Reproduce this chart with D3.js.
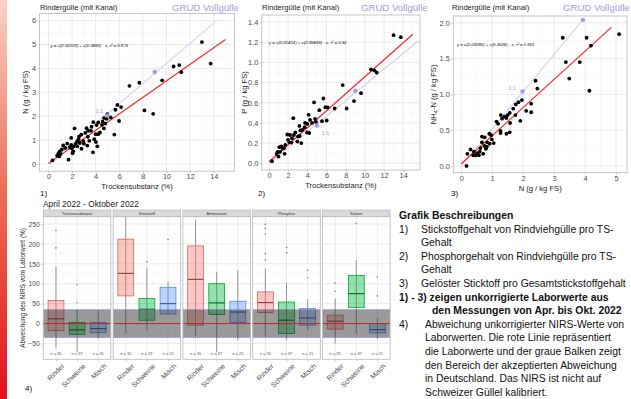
<!DOCTYPE html>
<html>
<head>
<meta charset="utf-8">
<script src="https://cdn.jsdelivr.net/npm/d3@7"></script>
<style>
  body { margin: 0; background: #fff; }
  svg { display: block; font-family: "Liberation Sans", Arial, sans-serif; }
</style>
</head>
<body>
<svg id="chart" width="631" height="399"></svg>
<script>
// ---- chart 1: N vs Trockensubstanz
const ts1 = [13.0,13.74,10.6,11.08,11.25,9.63,7.7,6.86,8.13,8.87,5.84,6.15,5.67,5.98,5.58,4.99,4.93,5.27,4.7,4.59,4.82,4.22,3.8,4.7,4.53,4.08,4.0,4.22,3.65,3.6,3.37,3.23,3.12,3.34,3.46,3.29,2.95,3.0,2.78,2.6,2.55,2.44,2.3,2.21,2.15,2.1,2.04,2.8,1.93,1.93,1.81,1.7,1.59,1.42,1.25,1.13,0.96,0.85,1.02,0.74,0.91,0.34,4.02,4.14,3.77,3.88,4.36,1.98,2.44,2.66];
const n1 = [5.1,4.2,4.08,4.14,3.84,3.5,3.4,3.27,2.24,2.1,2.47,2.38,2.27,1.8,1.23,2.09,1.89,1.95,1.92,1.77,1.69,1.74,1.75,1.49,1.64,1.63,1.25,1.25,1.56,1.39,1.39,1.5,1.3,1.14,0.97,0.77,0.96,0.85,1.23,1.16,1.04,0.95,0.84,1.49,0.74,0.53,0.45,0.64,1.09,0.8,0.7,0.18,0.85,0.67,0.78,0.61,0.53,0.45,0.42,0.35,0.32,0.15,0.92,0.74,0.49,1.04,1.32,0.65,0.74,0.88];
const grud1X = [5, 9];
const grud1Y = [2.03, 3.85];
const grudLine1 = [[0, 0], [14.25, 6.0]];
const fit1 = [0.02229, 0.3456];

// ---- chart 2: P vs Trockensubstanz
const ts2 = [13.0,13.74,10.64,10.99,11.23,7.69,9.6,8.87,8.1,6.85,5.67,5.88,6.12,4.7,5.25,6.02,5.53,4.9,4.8,4.14,4.28,4.49,4.0,4.2,3.97,3.72,3.48,3.27,3.2,3.37,2.96,3.03,2.54,2.6,2.4,2.33,2.12,1.91,2.19,1.98,1.7,1.57,1.63,1.29,1.08,1.43,1.15,0.9,0.8,1.0,0.31,2.75,3.17,3.76];
const p2 = [1.27,1.25,0.93,0.92,0.9,0.775,0.695,0.616,0.543,0.543,0.642,0.556,0.553,0.603,0.526,0.424,0.417,0.41,0.44,0.48,0.43,0.40,0.39,0.30,0.305,0.357,0.33,0.325,0.27,0.2,0.215,0.265,0.447,0.28,0.248,0.205,0.209,0.285,0.28,0.232,0.182,0.152,0.093,0.166,0.159,0.146,0.113,0.113,0.093,0.066,0.02,0.305,0.37,0.40];
const grud2X = [5, 9];
const grud2Y = [0.375, 0.72];
const grudLine2 = [[0, 0], [15.6, 1.215]];
const fit2 = [0.01412, 0.08438];

// ---- chart 3: NH4-N vs N
const n3 = [5.1,4.05,4.19,3.28,3.38,3.83,3.49,4.14,2.4,2.46,1.96,1.85,2.26,2.26,2.1,1.91,1.76,1.68,1.75,1.57,1.5,1.4,1.32,1.28,1.46,1.58,1.57,1.46,1.27,1.27,1.19,1.14,0.99,0.91,1.05,0.92,0.83,0.97,0.76,0.67,0.75,0.8,0.67,0.62,0.6,0.52,0.46,0.39,0.41,0.3,0.2,0.17,0.57,0.71,0.84];
const nh3 = [1.84,1.79,1.68,1.79,1.45,1.45,1.22,1.05,1.19,1.08,0.92,0.89,0.87,0.75,0.77,0.63,0.86,0.8,0.71,0.74,0.71,0.69,0.66,0.71,0.67,0.6,0.47,0.45,0.49,0.46,0.59,0.62,0.37,0.45,0.32,0.31,0.27,0.43,0.4,0.41,0.28,0.24,0.33,0.25,0.2,0.18,0.15,0.15,0.2,0.23,0.17,0.0,0.15,0.17,0.33];
const grud3X = [1.98, 3.93];
const grud3Y = [1.04, 2.04];
const grudLine3 = [[0, 0], [3.93, 2.04]];
const fit3 = [0.03085, 0.3926];

// ---- chart 4: boxplots, NIRS deviation (%)
const facets = ['Trockensubstanz', 'Stickstoff', 'Ammonium', 'Phosphor', 'Kalium'];
const animals = ['Rinder', 'Schweine', 'Misch'];
const nLabels = ['n = 35', 'n = 37', 'n = 21'];
const whiskerLow = [[-62,-71,-38],[-25,-17,24],[-30,-71,-42],[-33.5,-42,-17],[-50,-25,-39]];
const q1 = [[-18,-27,-23],[69.5,8.4,24],[-4,22.6,2.5],[27.6,-25,-4],[-14,40,-23.5]];
const median = [[12,-16,-12.5],[126,36,50],[111,52,29],[52.8,8.4,14],[6,75,-15]];
const q3 = [[58,3,3],[212,63,91],[195,100,56],[79.6,54,37.7],[21,121,0]];
const whiskerHigh = [[143,35,33],[268,140,105],[260,130,134],[138,103,61],[63,159,12.5]];
const outliers = [[[234,190],[98,53],[]],[[],[155],[211]],[[],[],[]],[[249,239,225,175,160],[191,178],[134,115]],[[102,81],[251],[117,69.5]]];
const yTicks4 = [-50, 0, 50, 100, 150, 200, 250];
const bandLimit = 35;

const descLines = [
  {t: 'Grafik Beschreibungen', x: 399, b: true},
  {t: '1)', x: 399, t2: 'Stickstoffgehalt von Rindviehgülle pro TS-'},
  {t: 'Gehalt', x: 421},
  {t: '2)', x: 399, t2: 'Phosphorgehalt von  Rindviehgülle pro TS-'},
  {t: 'Gehalt', x: 421},
  {t: '3)', x: 399, t2: 'Gelöster Sticktoff pro Gesamtstickstoffgehalt'},
  {t: '1) - 3) zeigen unkorrigierte Laborwerte aus', x: 399, b: true},
  {t: 'den Messungen von Apr. bis Okt. 2022', x: 432, b: true},
  {t: '4)', x: 399, t2: 'Abweichung unkorrigierter NIRS-Werte von', x2: 425},
  {t: 'Laborwerten. Die rote Linie repräsentiert', x: 425},
  {t: 'die Laborwerte und der graue Balken zeigt', x: 425},
  {t: 'den Bereich der akzeptierten Abweichung', x: 425},
  {t: 'in Deutschland. Das NIRS ist nicht auf', x: 425},
  {t: 'Schweizer Güllel kalibriert.', x: 425}
];

const svg = d3.select('#chart');
const GRUD = '#9d9de8';

// red gradient strip on the left
const grad = svg.append('defs').append('linearGradient')
  .attr('id', 'strip').attr('x1', 0).attr('x2', 0).attr('y1', 0).attr('y2', 1);
grad.append('stop').attr('offset', '0%').attr('stop-color', '#f9d2c4');
grad.append('stop').attr('offset', '50%').attr('stop-color', '#ec6a52');
grad.append('stop').attr('offset', '100%').attr('stop-color', '#e2131d');
svg.append('rect').attr('x', 0).attr('y', 0).attr('width', 7).attr('height', 399).attr('fill', 'url(#strip)');

function minors(major, dom) {
  const step = major[1] - major[0];
  const out = [];
  for (let v = major[0] - step / 2; v <= dom[1]; v += step) {
    if (v >= dom[0]) out.push(v);
  }
  return out;
}

function styleAxis(a, size) {
  a.select('.domain').remove();
  a.selectAll('.tick line').attr('stroke', '#b3b3b3').attr('stroke-width', 0.7);
  a.selectAll('.tick text').attr('fill', '#4d4d4d').attr('font-size', size);
}

function scatter(c) {
  const x = d3.scaleLinear().domain(c.xDom).range([c.left, c.right]);
  const y = d3.scaleLinear().domain(c.yDom).range([c.bottom, c.top]);
  const g = svg.append('g');

  g.append('rect').attr('x', c.left).attr('y', c.top)
    .attr('width', c.right - c.left).attr('height', c.bottom - c.top).attr('fill', '#fff');

  // grid
  const grid = g.append('g').attr('fill', 'none');
  minors(c.xTicks, c.xDom).forEach(v => grid.append('line')
    .attr('x1', x(v)).attr('x2', x(v)).attr('y1', c.top).attr('y2', c.bottom)
    .attr('stroke', '#f2f2f2').attr('stroke-width', 0.5));
  minors(c.yTicks, c.yDom).forEach(v => grid.append('line')
    .attr('x1', c.left).attr('x2', c.right).attr('y1', y(v)).attr('y2', y(v))
    .attr('stroke', '#f2f2f2').attr('stroke-width', 0.5));
  c.xTicks.forEach(v => grid.append('line')
    .attr('x1', x(v)).attr('x2', x(v)).attr('y1', c.top).attr('y2', c.bottom)
    .attr('stroke', '#e3e3e3').attr('stroke-width', 0.7));
  c.yTicks.forEach(v => grid.append('line')
    .attr('x1', c.left).attr('x2', c.right).attr('y1', y(v)).attr('y2', y(v))
    .attr('stroke', '#e3e3e3').attr('stroke-width', 0.7));

  // GRUD 1:1 line
  g.append('line')
    .attr('x1', x(c.grudLine[0][0])).attr('y1', y(c.grudLine[0][1]))
    .attr('x2', x(c.grudLine[1][0])).attr('y2', y(c.grudLine[1][1]))
    .attr('stroke', '#d2d2f4').attr('stroke-width', 1.1);

  // fitted line
  const fx = [0, c.fitEnd];
  g.append('line')
    .attr('x1', x(fx[0])).attr('y1', y(c.fit[0] + c.fit[1] * fx[0]))
    .attr('x2', x(fx[1])).attr('y2', y(c.fit[0] + c.fit[1] * fx[1]))
    .attr('stroke', '#f52a2a').attr('stroke-width', 1.2);

  g.selectAll('circle.pt').data(c.xs).enter().append('circle')
    .attr('class', 'pt')
    .attr('cx', (d) => x(d)).attr('cy', (d, i) => y(c.ys[i]))
    .attr('r', 1.9).attr('fill', '#000');

  g.selectAll('circle.grud').data(c.gx).enter().append('circle')
    .attr('class', 'grud')
    .attr('cx', (d) => x(d)).attr('cy', (d, i) => y(c.gy[i]))
    .attr('r', 2.2).attr('fill', GRUD);

  g.append('text').attr('x', x(c.ratioPos[0])).attr('y', y(c.ratioPos[1]))
    .attr('font-size', 5.5).attr('fill', GRUD).attr('text-anchor', 'middle').text('1:1');

  g.append('text').attr('x', c.eqPos[0]).attr('y', c.eqPos[1])
    .attr('font-size', 4.3).attr('font-style', 'italic').attr('fill', '#111')
    .text(c.eq);

  g.append('rect').attr('x', c.left).attr('y', c.top)
    .attr('width', c.right - c.left).attr('height', c.bottom - c.top)
    .attr('fill', 'none').attr('stroke', '#b8b8b8').attr('stroke-width', 0.8);

  const ax = g.append('g').attr('transform', `translate(0,${c.bottom})`)
    .call(d3.axisBottom(x).tickValues(c.xTicks).tickSize(2).tickPadding(1).tickFormat(d3.format('d')));
  styleAxis(ax, 7.4);
  const ay = g.append('g').attr('transform', `translate(${c.left},0)`)
    .call(d3.axisLeft(y).tickValues(c.yTicks).tickSize(2).tickPadding(1.5).tickFormat(c.yFmt));
  styleAxis(ay, 7.4);

  g.append('text').attr('x', (c.left + c.right) / 2).attr('y', c.bottom + 18)
    .attr('text-anchor', 'middle').attr('font-size', 7.6).attr('fill', '#222').text(c.xTitle);
  const yt = g.append('text')
    .attr('transform', `translate(${c.yTitleX},${(c.top + c.bottom) / 2}) rotate(-90)`)
    .attr('text-anchor', 'middle').attr('font-size', 7.6).attr('fill', '#222');
  c.yTitle(yt);

  g.append('text').attr('x', c.titleX).attr('y', 10).attr('font-size', 7.6).attr('fill', '#222')
    .text('Rindergülle (mit Kanal)');
  g.append('text').attr('x', c.grudX).attr('y', 11).attr('font-size', 9.6).attr('fill', GRUD)
    .text('GRUD Vollgülle');
  g.append('text').attr('x', c.numX).attr('y', 196).attr('font-size', 8).attr('fill', '#111')
    .text(c.num);
}

scatter({
  left: 39.6, right: 234.4, top: 13.4, bottom: 171.2,
  xDom: [-0.75, 15.75], yDom: [-0.3, 6.3],
  xTicks: d3.range(0, 15, 2), yTicks: d3.range(0, 7, 1), yFmt: d3.format('d'),
  xs: ts1, ys: n1, gx: grud1X, gy: grud1Y, grudLine: grudLine1,
  fit: fit1, fitEnd: 15, ratioPos: [4.3, 2.12],
  eq: 'y = c(0.02229) + c(0.3456) · x,  r² = 0.879', eqPos: [50.5, 46.5],
  xTitle: 'Trockensubstanz (%)', yTitleX: 28,
  yTitle: t => t.text('N (g / kg FS)'),
  titleX: 40, grudX: 172, numX: 40, num: '1)'
});

scatter({
  left: 261.8, right: 420, top: 15, bottom: 170,
  xDom: [-0.75, 15.75], yDom: [-0.067, 1.47],
  xTicks: d3.range(0, 15, 2), yTicks: d3.range(0, 1.41, 0.2), yFmt: d3.format('.1f'),
  xs: ts2, ys: p2, gx: grud2X, gy: grud2Y, grudLine: grudLine2,
  fit: fit2, fitEnd: 15, ratioPos: [5.9, 0.28],
  eq: 'y = c(0.01412) + c(0.08438) · x,  r² = 0.92', eqPos: [269, 44],
  xTitle: 'Trockensubstanz (%)', yTitleX: 247,
  yTitle: t => t.text('P (g / kg FS)'),
  titleX: 262, grudX: 361, numX: 258, num: '2)'
});

scatter({
  left: 453.3, right: 627, top: 16, bottom: 172.7,
  xDom: [-0.255, 5.355], yDom: [-0.094, 2.094],
  xTicks: d3.range(0, 6, 1), yTicks: d3.range(0, 2.01, 0.5), yFmt: d3.format('.1f'),
  xs: n3, ys: nh3, gx: grud3X, gy: grud3Y, grudLine: grudLine3,
  fit: fit3, fitEnd: 4.85, ratioPos: [1.65, 1.06],
  eq: 'y = c(0.03085) + c(0.3926) · x,  r² = 0.901', eqPos: [457, 46],
  xTitle: 'N (g / kg FS)', yTitleX: 436,
  yTitle: t => {
    t.append('tspan').text('NH');
    t.append('tspan').attr('font-size', 5.5).attr('dy', 2).text('4');
    t.append('tspan').attr('dy', -2).text('-N  (g / kg FS)');
  },
  titleX: 452, grudX: 563, numX: 451, num: '3)'
});

// ---- chart 4
const colors = {Rinder: '#F8766D', Schweine: '#00BA38', Misch: '#619CFF'};
const facetLeft = 43.3, facetW = 67.6, facetGap = 2.2;
const pTop = 216.7, pBottom = 359.3;
const y4 = d3.scaleLinear().domain([-89.7, 268.3]).range([pBottom, pTop]);
const g4 = svg.append('g');

g4.append('text').attr('x', 43).attr('y', 207).attr('font-size', 8.4).attr('fill', '#222')
  .text('April 2022 - Oktober 2022');

facets.forEach((f, fi) => {
  const x0 = facetLeft + fi * (facetW + facetGap);
  const xs = d3.scalePoint().domain(animals).range([x0, x0 + facetW]).padding(0.6);
  const bw = xs.step() * 0.75;
  const g = g4.append('g');

  g.append('rect').attr('x', x0).attr('y', pTop).attr('width', facetW).attr('height', pBottom - pTop).attr('fill', '#fff');
  minors(yTicks4, y4.domain()).forEach(v => g.append('line')
    .attr('x1', x0).attr('x2', x0 + facetW).attr('y1', y4(v)).attr('y2', y4(v))
    .attr('stroke', '#f2f2f2').attr('stroke-width', 0.5));
  yTicks4.forEach(v => g.append('line')
    .attr('x1', x0).attr('x2', x0 + facetW).attr('y1', y4(v)).attr('y2', y4(v))
    .attr('stroke', '#e3e3e3').attr('stroke-width', 0.7));
  animals.forEach(a => g.append('line')
    .attr('x1', xs(a)).attr('x2', xs(a)).attr('y1', pTop).attr('y2', pBottom)
    .attr('stroke', '#e3e3e3').attr('stroke-width', 0.7));

  animals.forEach((a, ai) => {
    const cx = xs(a);
    const col = d3.color(colors[a]);
    g.append('line').attr('x1', cx).attr('x2', cx)
      .attr('y1', y4(whiskerLow[fi][ai])).attr('y2', y4(whiskerHigh[fi][ai]))
      .attr('stroke', '#6b6b6b').attr('stroke-width', 0.7);
    g.append('rect').attr('x', cx - bw / 2).attr('y', y4(q3[fi][ai]))
      .attr('width', bw).attr('height', y4(q1[fi][ai]) - y4(q3[fi][ai]))
      .attr('fill', col.copy({opacity: 0.42})).attr('stroke', col.darker(0.4)).attr('stroke-width', 0.8);
    g.append('line').attr('x1', cx - bw / 2).attr('x2', cx + bw / 2)
      .attr('y1', y4(median[fi][ai])).attr('y2', y4(median[fi][ai]))
      .attr('stroke', col.darker(1.6)).attr('stroke-width', 1.1);
    g.selectAll(null).data(outliers[fi][ai]).enter().append('circle')
      .attr('cx', cx).attr('cy', d => y4(d)).attr('r', 0.8).attr('fill', '#777');
    g.append('text').attr('x', cx).attr('y', y4(-75) + 1.5).attr('text-anchor', 'middle')
      .attr('font-size', 4).attr('fill', '#555').text(nLabels[ai]);
  });

  // accepted deviation band
  g.append('rect').attr('x', x0).attr('y', y4(bandLimit)).attr('width', facetW)
    .attr('height', y4(-bandLimit) - y4(bandLimit)).attr('fill', 'rgba(40,40,40,0.47)');
  [bandLimit, -bandLimit].forEach(v => g.append('line')
    .attr('x1', x0).attr('x2', x0 + facetW).attr('y1', y4(v)).attr('y2', y4(v))
    .attr('stroke', '#7474ff').attr('stroke-width', 0.9).attr('stroke-dasharray', '1,1'));
  g.append('line').attr('x1', x0).attr('x2', x0 + facetW).attr('y1', y4(0)).attr('y2', y4(0))
    .attr('stroke', '#c0282c').attr('stroke-width', 1);

  g.append('rect').attr('x', x0).attr('y', pTop).attr('width', facetW).attr('height', pBottom - pTop)
    .attr('fill', 'none').attr('stroke', '#b8b8b8').attr('stroke-width', 0.8);

  // strip
  g.append('rect').attr('x', x0).attr('y', pTop - 6.7).attr('width', facetW).attr('height', 6.7)
    .attr('fill', '#d9d9d9').attr('stroke', '#b3b3b3').attr('stroke-width', 0.6);
  g.append('text').attr('x', x0 + facetW / 2).attr('y', pTop - 2.1).attr('text-anchor', 'middle')
    .attr('font-size', 4).attr('fill', '#333').text(f);

  const ax = g.append('g').attr('transform', `translate(0,${pBottom})`)
    .call(d3.axisBottom(xs).tickSize(2).tickPadding(2));
  styleAxis(ax, 7);
  ax.selectAll('.tick text').attr('text-anchor', 'end')
    .attr('transform', 'translate(3,2) rotate(-45)').attr('dy', '0.5em');

  if (fi === 0) {
    const ay = g.append('g').attr('transform', `translate(${x0},0)`)
      .call(d3.axisLeft(y4).tickValues(yTicks4).tickSize(2).tickPadding(1.5));
    styleAxis(ay, 6.8);
  }
});

g4.append('text').attr('transform', `translate(24.5,${(pTop + pBottom) / 2}) rotate(-90)`)
  .attr('text-anchor', 'middle').attr('font-size', 6.4).attr('fill', '#222')
  .text('Abweichung des NIRS vom Laborwert (%)');
g4.append('text').attr('x', 25).attr('y', 391).attr('font-size', 8).attr('fill', '#111').text('4)');

// ---- description text
const desc = svg.append('g').attr('font-size', 10.4).attr('fill', '#111');
descLines.forEach((l, i) => {
  const yy = 219 + i * 13.6;
  desc.append('text').attr('x', l.x).attr('y', yy)
    .attr('font-weight', l.b ? 'bold' : null).text(l.t);
  if (l.t2) desc.append('text').attr('x', l.x2 || 421).attr('y', yy).text(l.t2);
});
</script>
</body>
</html>
